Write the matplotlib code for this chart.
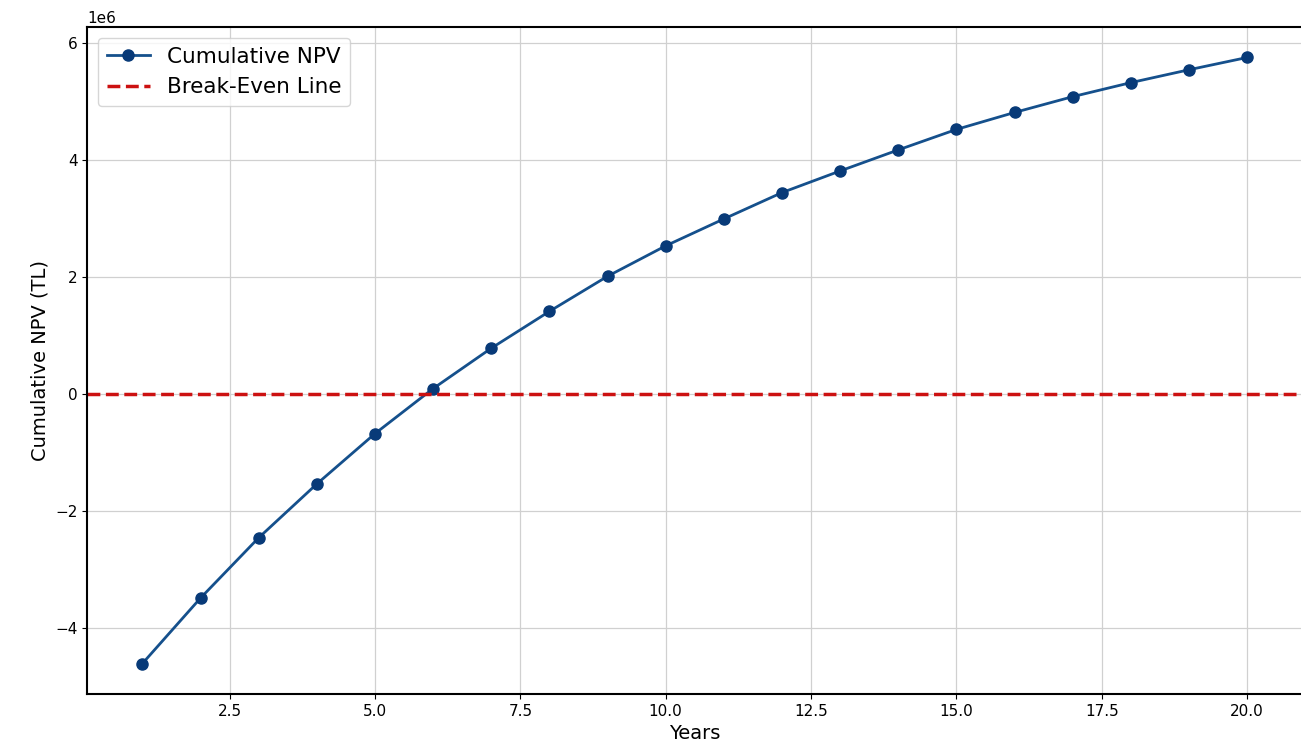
import matplotlib
matplotlib.use("Agg")
import matplotlib.pyplot as plt

years = list(range(1, 21))
cum_npv = [-4.60, -3.48, -2.45, -1.53, -0.67, 0.10, 0.79, 1.42, 2.02, 2.54,
           3.00, 3.45, 3.82, 4.18, 4.53, 4.82, 5.09, 5.33, 5.55, 5.76]
cum_npv = [v * 1e6 for v in cum_npv]

fig = plt.figure(figsize=(13.01, 7.55), dpi=100)
ax = fig.add_axes([0.067, 0.081, 0.934, 0.883])
ax.plot(years, cum_npv, marker='o', color='#15508c', markerfacecolor='#083a78',
        markeredgecolor='#083a78', markersize=8, linewidth=2, label='Cumulative NPV')
ax.axhline(0, color='#cc1111', linestyle='--', linewidth=2.5, label='Break-Even Line')
ax.set_xlabel('Years', fontsize=14)
ax.set_ylabel('Cumulative NPV (TL)', fontsize=14)
ax.tick_params(labelsize=11)
ax.yaxis.get_offset_text().set_fontsize(11)
ax.grid(True, color='#d0d0d0', linewidth=0.9)
ax.legend(fontsize=15.5, loc='upper left')
for s in ax.spines.values():
    s.set_linewidth(1.5)
fig.savefig('out.png', dpi=100)
